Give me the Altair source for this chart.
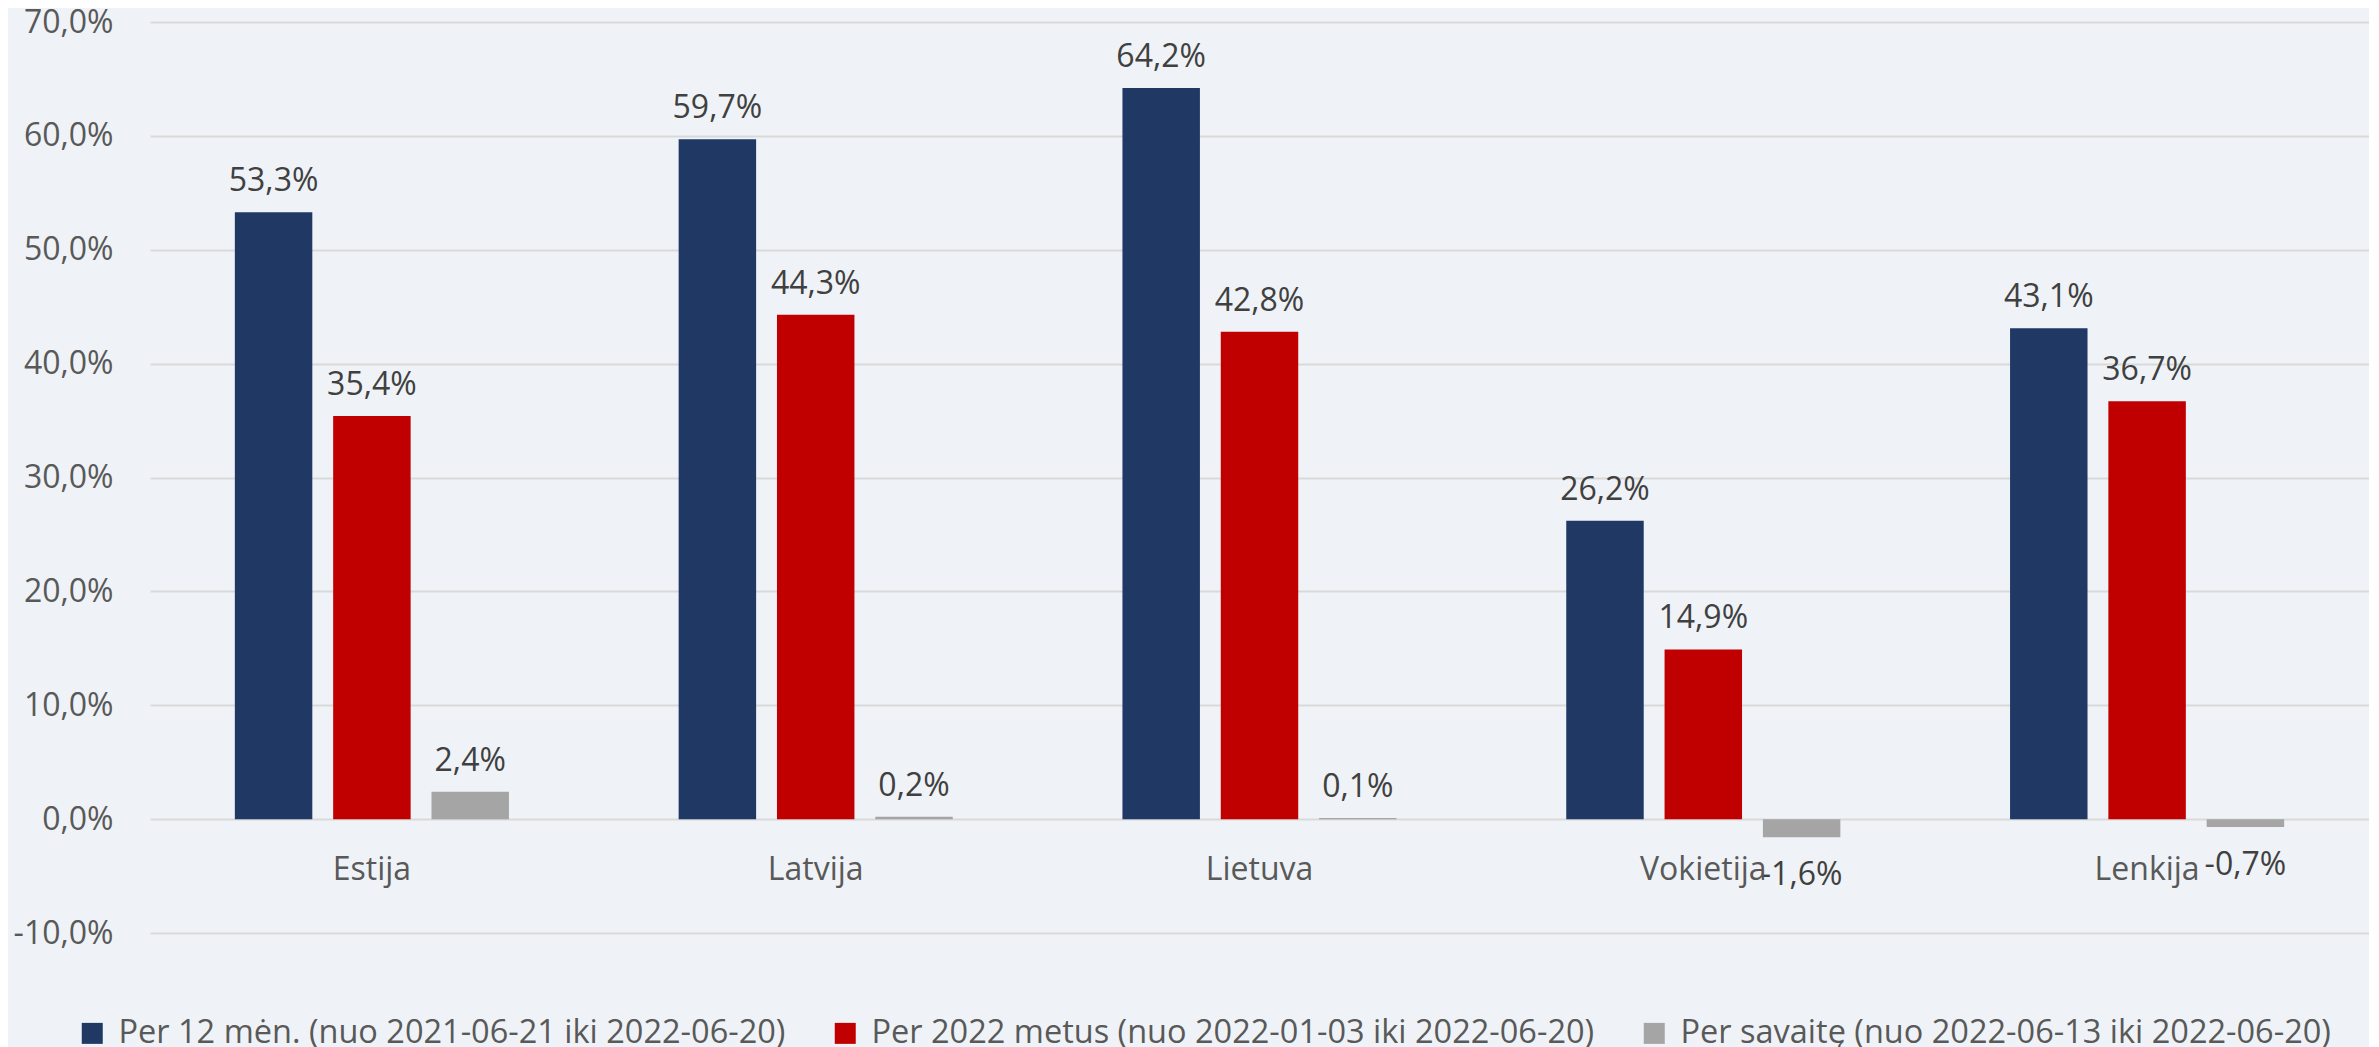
import altair as alt
import pandas as pd

countries = ["Estija", "Latvija", "Lietuva", "Vokietija", "Lenkija"]
series = [
    "Per 12 mėn. (nuo 2021-06-21 iki 2022-06-20)",
    "Per 2022 metus (nuo 2022-01-03 iki 2022-06-20)",
    "Per savaitę (nuo 2022-06-13 iki 2022-06-20)",
]
vals_12m = [53.3, 59.7, 64.2, 26.2, 43.1]
vals_ytd = [35.4, 44.3, 42.8, 14.9, 36.7]
vals_week = [2.4, 0.2, 0.1, -1.6, -0.7]
y_ticks = [-10, 0, 10, 20, 30, 40, 50, 60, 70]
colors = ["#203864", "#C00000", "#A5A5A5"]

rows = []
for s, vals in zip(series, [vals_12m, vals_ytd, vals_week]):
    for c, v in zip(countries, vals):
        rows.append({"Country": c, "Series": s, "value": v})
df = pd.DataFrame(rows)
cat_df = pd.DataFrame({"Country": countries})

FONT = "Open Sans"
PCT = "(datum.value < 0 ? '-' : '') + replace(format(abs(datum.value), '.1f'), '.', ',') + '%'"

x_enc = alt.X("Country:N", sort=countries, axis=None,
              scale=alt.Scale(paddingInner=0, paddingOuter=0))
xo_enc = alt.XOffset("Series:N", sort=series,
                     scale=alt.Scale(paddingInner=0.212, paddingOuter=0.863))
y_scale = alt.Scale(domain=[-10, 70], nice=False, zero=False)

base = alt.Chart(df).transform_calculate(label=PCT)

bars = base.mark_bar().encode(
    x=x_enc,
    xOffset=xo_enc,
    y=alt.Y("value:Q", scale=y_scale,
            axis=alt.Axis(values=y_ticks, title=None, domain=False, ticks=False,
                          labelExpr=PCT,
                          labelFont=FONT, labelFontSize=32, labelColor="#595959",
                          labelPadding=37, grid=True, gridColor="#D9D9D9",
                          gridWidth=2)),
    color=alt.Color("Series:N", sort=series,
                    scale=alt.Scale(domain=series, range=colors),
                    legend=alt.Legend(orient="none", legendX=-74, legendY=995,
                                      direction="horizontal", title=None,
                                      symbolType="square", symbolSize=441,
                                      symbolStrokeWidth=0, labelFont=FONT,
                                      labelFontSize=32.5, labelColor="#595959",
                                      labelOffset=10, columnPadding=43,
                                      labelLimit=3000, padding=0)),
)

pos_labels = base.transform_filter("datum.value >= 0").mark_text(
    font=FONT, fontSize=32, color="#404040", baseline="alphabetic", dy=-21
).encode(x=x_enc, xOffset=xo_enc, y=alt.Y("value:Q", scale=y_scale), text="label:N")

neg_labels = base.transform_filter("datum.value < 0").mark_text(
    font=FONT, fontSize=32, color="#404040", baseline="alphabetic", dy=48
).encode(x=x_enc, xOffset=xo_enc, y=alt.Y("value:Q", scale=y_scale), text="label:N")

cat_labels = alt.Chart(cat_df).mark_text(
    font=FONT, fontSize=32, color="#595959", baseline="alphabetic", dy=61
).encode(x=x_enc, y=alt.datum(0), text="Country:N")

chart = alt.layer(bars, pos_labels, neg_labels, cat_labels).properties(
    width=2219, height=911,
    autosize=alt.AutoSizeParams(type="none"),
    padding={"left": 142, "top": 14, "right": 0, "bottom": 114},
    background="#EFF3F7",
).configure_view(stroke=None)

chart.save("out.html", embed_options={"renderer": "svg", "actions": False})
